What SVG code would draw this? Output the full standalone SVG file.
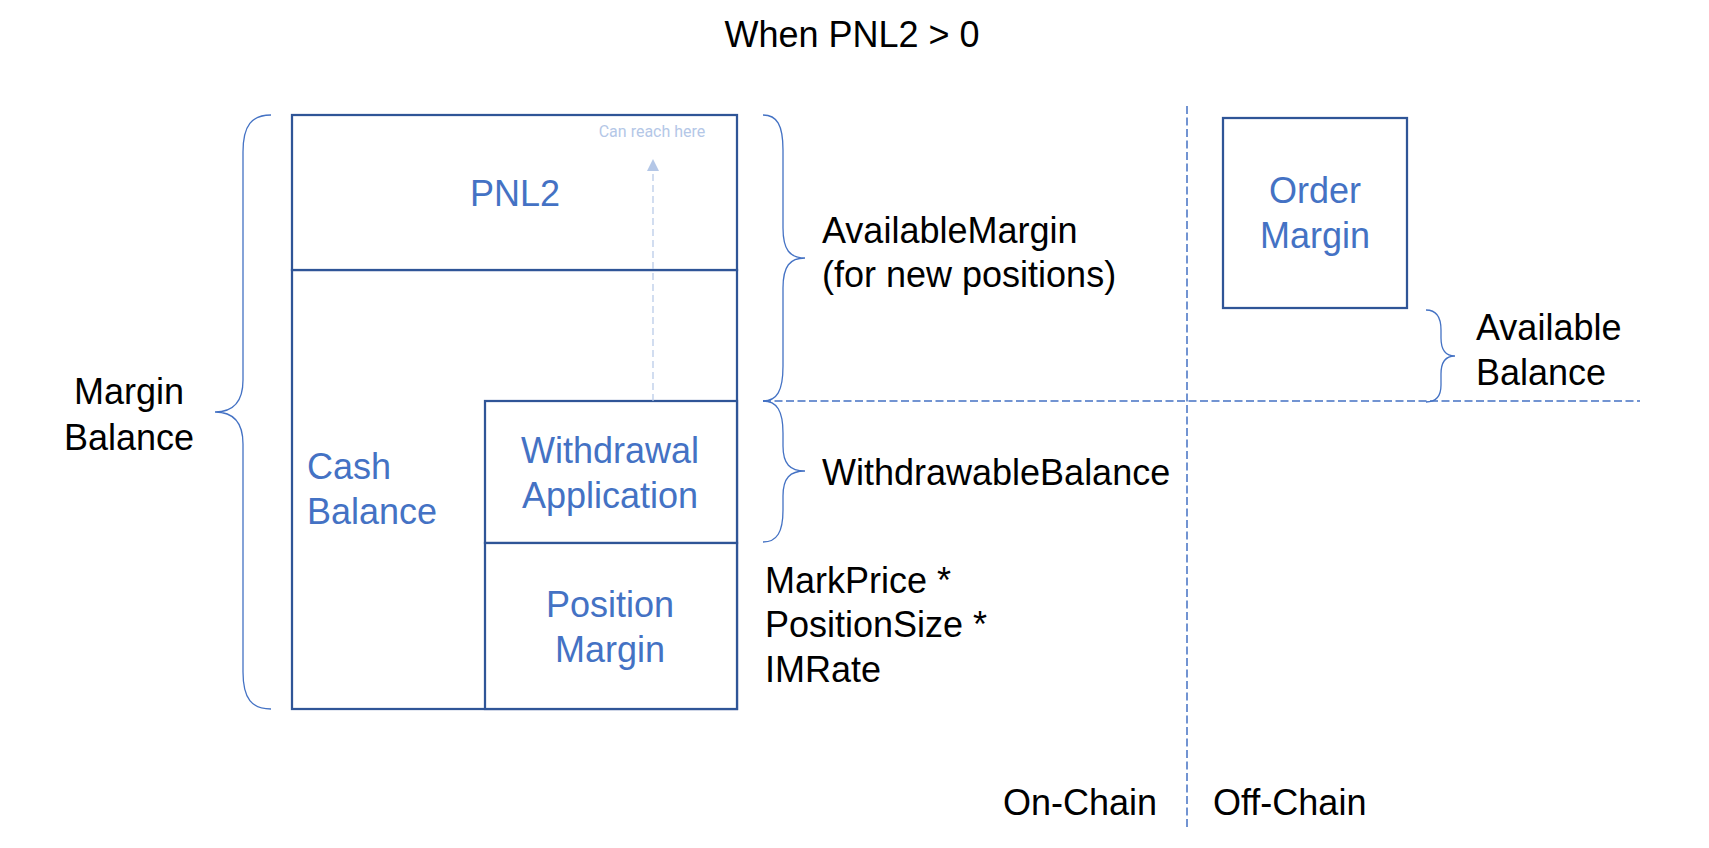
<svg xmlns="http://www.w3.org/2000/svg" width="1709" height="848" viewBox="0 0 1709 848">
<style>
.box{fill:#ffffff;stroke:#2f5597;stroke-width:2.25}
.t{font-family:"Liberation Sans",Arial,sans-serif;font-size:36px}
.blue{fill:#4472c4}
.blk{fill:#000000}
.brace{fill:none;stroke:#4472c4;stroke-width:1.3}
.dash{fill:none;stroke:#4472c4;stroke-width:1.5;stroke-dasharray:8 3.5}
</style>
<defs>
<marker id="tri" viewBox="0 0 12 12" refX="11" refY="6" markerWidth="12" markerHeight="12" markerUnits="userSpaceOnUse" orient="auto">
<path d="M0 0 L12 6 L0 12 Z" fill="#b4c7e7"/>
</marker>
</defs>
<rect width="1709" height="848" fill="#ffffff"/>
<text class="t blk" x="852" y="47" text-anchor="middle">When PNL2 &gt; 0</text>

<g id="cash-balance">
<rect class="box" x="292" y="270" width="445" height="439"/>
<text class="t blue" x="307" y="479">Cash</text>
<text class="t blue" x="307" y="524">Balance</text>
</g>
<g id="pnl2">
<rect class="box" x="292" y="115" width="445" height="155"/>
<text class="t blue" x="515" y="206" text-anchor="middle">PNL2</text>
</g>
<g id="withdrawal-application">
<rect class="box" x="485" y="401" width="252" height="142"/>
<text class="t blue" x="610" y="463" text-anchor="middle">Withdrawal</text>
<text class="t blue" x="610" y="508" text-anchor="middle">Application</text>
</g>
<g id="position-margin">
<rect class="box" x="485" y="543" width="252" height="166"/>
<text class="t blue" x="610" y="617" text-anchor="middle">Position</text>
<text class="t blue" x="610" y="662" text-anchor="middle">Margin</text>
</g>
<g id="order-margin">
<rect class="box" x="1223" y="118" width="184" height="190"/>
<text class="t blue" x="1315" y="203" text-anchor="middle">Order</text>
<text class="t blue" x="1315" y="248" text-anchor="middle">Margin</text>
</g>

<g id="connectors">
<line x1="1187" y1="106" x2="1187" y2="828" class="dash" stroke-width="1.1"/>
<line x1="763" y1="401" x2="1640" y2="401" class="dash"/>
<line x1="653" y1="401" x2="653" y2="160" fill="none" stroke="#b4c7e7" stroke-width="1.2" stroke-dasharray="7 4" marker-end="url(#tri)"/>
<path class="brace" d="M271 115 C252 115 243 125 243 152 L243 380 C243 402 233 412 215 412 C233 412 243 422 243 444 L243 672 C243 699 252 709 271 709"/>
<path class="brace" d="M763 115 C777 115 783 125 783 150 L783 228 C783 250 790 258 805 258 C790 258 783 266 783 288 L783 366 C783 391 777 401 763 401"/>
<path class="brace" d="M763 401 C777 401 783 411 783 433 L783 446 C783 464 790 471 805 471 C790 471 783 478 783 496 L783 510 C783 532 777 542 763 542"/>
<path class="brace" d="M1426 310 C1436 310 1441 317 1441 330 L1441 338 C1441 350 1446 356 1455 356 C1446 356 1441 362 1441 374 L1441 385 C1441 397 1436 402 1426 402"/>
</g>

<g id="labels">
<text x="652" y="137" text-anchor="middle" font-family="Roboto,'Liberation Sans',sans-serif" font-size="16" fill="#b4c7e7">Can reach here</text>
<text class="t blk" x="129" y="404" text-anchor="middle">Margin</text>
<text class="t blk" x="129" y="450" text-anchor="middle">Balance</text>
<text class="t blk" x="822" y="243">AvailableMargin</text>
<text class="t blk" x="822" y="287">(for new positions)</text>
<text class="t blk" x="822" y="485">WithdrawableBalance</text>
<text class="t blk" x="765" y="593">MarkPrice *</text>
<text class="t blk" x="765" y="637">PositionSize *</text>
<text class="t blk" x="765" y="682">IMRate</text>
<text class="t blk" x="1476" y="340">Available</text>
<text class="t blk" x="1476" y="385">Balance</text>
<text class="t blk" x="1157" y="815" text-anchor="end">On-Chain</text>
<text class="t blk" x="1213" y="815">Off-Chain</text>
</g>
</svg>
